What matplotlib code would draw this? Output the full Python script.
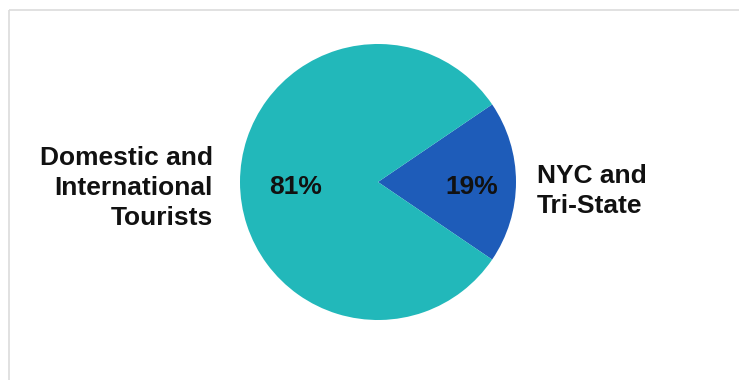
import matplotlib
matplotlib.use("Agg")
import matplotlib.pyplot as plt
from matplotlib.patches import Rectangle

categories = ["NYC and\nTri-State", "Domestic and\nInternational\nTourists"]
values = [19, 81]
colors = ["#1E5CB9", "#22B8BA"]

W, H = 739, 380
fig = plt.figure(figsize=(W / 100, H / 100), dpi=100)
ax = fig.add_axes([0, 0, 1, 1])
ax.set_xlim(0, W)
ax.set_ylim(H, 0)
ax.set_aspect("equal")
ax.axis("off")

# light frame
ax.add_patch(Rectangle((8.5, 9.5), W, H, fill=False, edgecolor="#dcdcdc", linewidth=1.2))

cx, cy, r = 378, 182, 138
start = -values[0] / sum(values) * 180
wedges, texts, autotexts = ax.pie(
    values, colors=colors, startangle=start, center=(cx, cy), radius=r,
    autopct=lambda p: f"{p:.0f}%", pctdistance=0.645,
    wedgeprops=dict(linewidth=0), frame=True,
    textprops=dict(fontsize=19, fontweight="bold", color="#111111",
                   family=["Liberation Sans", "DejaVu Sans"]))
ax.set_xlim(0, W)
ax.set_ylim(H, 0)
ax.axis("off")
shifts = [5, 7]
for t, s in zip(autotexts, shifts):
    x, y = t.get_position()
    t.set_position((x + s, y + 5))

lab_kw = dict(fontsize=19, fontweight="bold", color="#111111",
              family=["Liberation Sans", "DejaVu Sans"])
ax.text(cx + r + 21, cy + 9, categories[0], ha="left", va="center",
        linespacing=1.34, **lab_kw)
ax.text(cx - r - 27, cy + 6, categories[1], ha="right", va="center",
        multialignment="right", linespacing=1.29, **lab_kw)

fig.savefig("out.png", dpi=100)
